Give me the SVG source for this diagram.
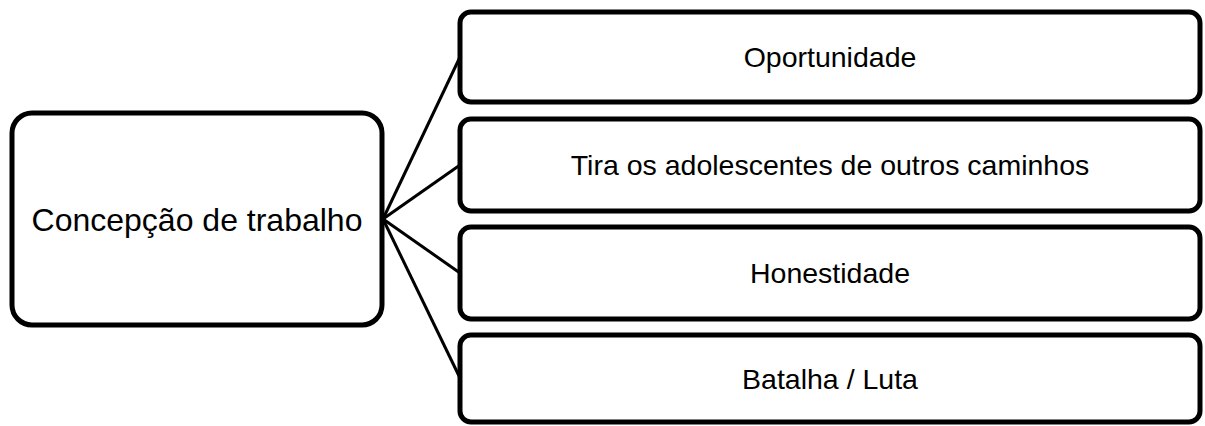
<svg xmlns="http://www.w3.org/2000/svg" width="1205" height="426" viewBox="0 0 1205 426">
  <style>
    .box { fill: #ffffff; stroke: #000000; stroke-width: 5; }
    .link { stroke: #000000; stroke-width: 3; fill: none; }
    .label { font-family: "Liberation Sans", Arial, sans-serif; fill: #000000; text-anchor: middle; }
    .main { font-size: 32px; }
    .item { font-size: 28.5px; }
  </style>
  <rect width="1205" height="426" fill="#ffffff"/>

  <!-- connectors fanning out from the central concept -->
  <g id="connectors">
    <line class="link" x1="383" y1="219" x2="460" y2="57"/>
    <line class="link" x1="383" y1="219" x2="460" y2="165"/>
    <line class="link" x1="383" y1="219" x2="460" y2="273"/>
    <line class="link" x1="383" y1="219" x2="460" y2="378"/>
  </g>

  <g id="node-concepcao">
    <rect class="box" x="12" y="113" width="370" height="212" rx="20" ry="20"/>
    <text class="label main" x="197" y="230.5">Concepção de trabalho</text>
  </g>

  <g id="node-oportunidade">
    <rect class="box" x="460" y="12" width="740" height="90" rx="11" ry="11"/>
    <text class="label item" x="830" y="67">Oportunidade</text>
  </g>

  <g id="node-tira">
    <rect class="box" x="460" y="119" width="740" height="92" rx="11" ry="11"/>
    <text class="label item" x="830" y="175">Tira os adolescentes de outros caminhos</text>
  </g>

  <g id="node-honestidade">
    <rect class="box" x="460" y="227" width="740" height="92" rx="11" ry="11"/>
    <text class="label item" x="830" y="283">Honestidade</text>
  </g>

  <g id="node-batalha">
    <rect class="box" x="460" y="335" width="740" height="87" rx="11" ry="11"/>
    <text class="label item" x="830" y="389">Batalha / Luta</text>
  </g>
</svg>
